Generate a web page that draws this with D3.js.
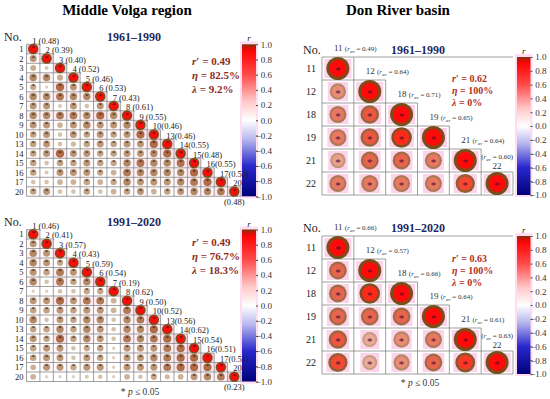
<!DOCTYPE html>
<html>
<head>
<meta charset="utf-8">
<script src="https://cdn.jsdelivr.net/npm/d3@7"></script>
<style>
  body { margin: 0; background: #fff; }
  svg { display: block; }
  text { font-family: "Liberation Serif", "DejaVu Serif", serif; }
</style>
</head>
<body>
<svg id="chart" width="550" height="399"></svg>
<script>
// station numbers
volgaIds = [1, 2, 3, 4, 5, 6, 7, 8, 9, 10, 13, 14, 15, 16, 17, 20];
donIds = [11, 12, 18, 19, 21, 22];

// mean r of each station (the labels along the diagonal)
volgaAv1961 = [0.48, 0.39, 0.40, 0.52, 0.46, 0.53, 0.43, 0.61, 0.55, 0.46, 0.46, 0.55, 0.48, 0.55, 0.53, 0.48];
volgaAv1991 = [0.46, 0.41, 0.57, 0.43, 0.59, 0.54, 0.19, 0.62, 0.50, 0.52, 0.56, 0.62, 0.54, 0.51, 0.51, 0.23];
donAv1961 = [0.49, 0.64, 0.71, 0.65, 0.64, 0.60];
donAv1991 = [0.66, 0.57, 0.66, 0.64, 0.61, 0.63];

// lower triangle: row i holds r with the stations before it
volgaR1961 = [
  [],
  [0.45],
  [0.32, 0.15],
  [0.5, 0.5, 0.35],
  [0.37, 0.1, 0.62, 0.45],
  [0.5, 0.5, 0.56, 0.5, 0.5],
  [0.45, 0.45, 0.15, 0.45, 0.2, 0.45],
  [0.5, 0.5, 0.55, 0.55, 0.5, 0.6, 0.5],
  [0.45, 0.45, 0.3, 0.45, 0.5, 0.45, 0.45, 0.5],
  [0.4, 0.45, 0.2, 0.45, 0.4, 0.45, 0.4, 0.45, 0.6],
  [0.4, 0.45, 0.2, 0.25, 0.4, 0.45, 0.4, 0.45, 0.45, 0.6],
  [0.4, 0.45, 0.62, 0.45, 0.45, 0.4, 0.4, 0.45, 0.45, 0.5, 0.6],
  [0.4, 0.2, 0.4, 0.4, 0.45, 0.4, 0.37, 0.5, 0.57, 0.5, 0.5, 0.58],
  [0.4, 0.15, 0.45, 0.45, 0.45, 0.37, 0.3, 0.55, 0.5, 0.5, 0.5, 0.5, 0.6],
  [0.2, 0.2, 0.3, 0.3, 0.4, 0.3, 0.37, 0.5, 0.45, 0.45, 0.45, 0.5, 0.55, 0.6],
  [0.4, 0.45, 0.2, 0.2, 0.4, 0.2, 0.3, 0.4, 0.45, 0.3, 0.4, 0.45, 0.5, 0.5, 0.55]
];
volgaR1991 = [
  [],
  [0.45],
  [0.5, 0.45],
  [0.5, 0.45, 0.37],
  [0.45, 0.4, 0.55, 0.45],
  [0.5, 0.2, 0.56, 0.4, 0.5],
  [0.1, 0.1, 0.2, 0.2, 0.37, 0.37],
  [0.45, 0.45, 0.6, 0.45, 0.55, 0.55, 0.3],
  [0.4, 0.4, 0.45, 0.4, 0.45, 0.45, 0.3, 0.55],
  [0.5, 0.2, 0.45, 0.4, 0.5, 0.5, 0.2, 0.5, 0.55],
  [0.4, 0.4, 0.5, 0.4, 0.5, 0.45, 0.2, 0.5, 0.5, 0.6],
  [0.45, 0.4, 0.6, 0.4, 0.5, 0.45, 0.2, 0.55, 0.5, 0.55, 0.6],
  [0.4, 0.45, 0.45, 0.2, 0.37, 0.4, 0.1, 0.45, 0.45, 0.45, 0.55, 0.6],
  [0.4, 0.45, 0.45, 0.2, 0.45, 0.4, 0.1, 0.45, 0.45, 0.5, 0.55, 0.6, 0.6],
  [0.3, 0.45, 0.45, 0.37, 0.45, 0.45, 0.1, 0.45, 0.45, 0.45, 0.55, 0.6, 0.6, 0.6],
  [0.3, 0.1, 0.1, 0.1, 0.15, 0.2, 0.1, 0.3, 0.2, 0.37, 0.25, 0.3, 0.45, 0.5, 0.55]
];
donR1961 = [
  [],
  [0.5],
  [0.55, 0.65],
  [0.55, 0.65, 0.8],
  [0.45, 0.6, 0.6, 0.55],
  [0.55, 0.55, 0.55, 0.55, 0.7]
];
donR1991 = [
  [],
  [0.6],
  [0.6, 0.8],
  [0.6, 0.6, 0.6],
  [0.65, 0.42, 0.5, 0.55],
  [0.7, 0.42, 0.5, 0.6, 0.75]
];

// r', eta (%), lambda (%)
volgaStats1961 = [0.49, 82.5, 9.2];
volgaStats1991 = [0.49, 76.7, 18.3];
donStats1961 = [0.62, 100, 0];
donStats1991 = [0.63, 100, 0];

cbTicks = [1.0, 0.8, 0.6, 0.4, 0.2, 0.0, -0.2, -0.4, -0.6, -0.8, -1.0];

const svg = d3.select('#chart');
const rCrit = 0.361; // p <= 0.05 for n = 30

// colour bar scale
const color = d3.scaleLinear()
  .domain([-1, -0.6, -0.25, 0, 0.25, 0.6, 0.93, 1])
  .range(['#00007a', '#2828cc', '#b8b8ee', '#ffffff', '#ffc8c8', '#ff4a4a', '#ff0000', '#7a3510'])
  .clamp(true);
// circle colours: ring and core
const ring = d3.scaleLinear().domain([0, 0.4, 0.6, 0.8, 1]).range(['#e8ddd0', '#c4a486', '#a06e44', '#805222', '#7a4e1a']).clamp(true);
const core = d3.scaleLinear().domain([0, 0.4, 0.6, 0.8, 1]).range(['#f5e6e0', '#eeb2a2', '#e8644e', '#ff2a1a', '#ff0a0a']).clamp(true);

// titles
svg.append('text').attr('x', 127).attr('y', 15).attr('text-anchor', 'middle')
  .style('font-size', '15px').style('font-weight', 'bold').text('Middle Volga region');
svg.append('text').attr('x', 398).attr('y', 15).attr('text-anchor', 'middle')
  .style('font-size', '15px').style('font-weight', 'bold').text('Don River basin');

function drawPanel(opt) {
  const g = svg.append('g');
  const n = opt.ids.length;
  const x = d3.scaleBand().domain(opt.ids).range([opt.x0, opt.x1]);
  const y = d3.scaleBand().domain(opt.ids).range([opt.y0, opt.y1]);
  const bw = x.bandwidth(), bh = y.bandwidth();
  const rad = d3.scaleSqrt().domain([0, 1]).range([0, opt.maxR]);

  const cells = [];
  opt.ids.forEach((row, i) => {
    opt.r[i].forEach((v, j) => cells.push({ row: row, col: opt.ids[j], v: v }));
    cells.push({ row: row, col: row, v: 1, diag: true });
  });

  // colour bar (drawn first so the labels can run over it)
  const gid = 'grad' + opt.key;
  const grad = svg.append('defs').append('linearGradient').attr('id', gid)
    .attr('x1', 0).attr('y1', 1).attr('x2', 0).attr('y2', 0);
  d3.range(-1, 1.0001, 0.05).forEach(v => {
    grad.append('stop').attr('offset', `${(v + 1) / 2 * 100}%`).attr('stop-color', color(v));
  });
  const cy = d3.scaleLinear().domain([-1, 1]).range([opt.y1, opt.y0]);
  g.append('rect').attr('x', opt.cbX - 2).attr('y', opt.y0 - 3)
    .attr('width', opt.cbW + 4).attr('height', opt.y1 - opt.y0 + 5).attr('fill', '#ffdcef');
  g.append('rect').attr('x', opt.cbX).attr('y', opt.y0)
    .attr('width', opt.cbW).attr('height', opt.y1 - opt.y0).attr('fill', `url(#${gid})`);
  g.append('text').attr('x', opt.cbX + opt.cbW / 2).attr('y', opt.y0 - 3)
    .attr('text-anchor', 'middle').style('font-size', '9px').style('font-style', 'italic')
    .attr('fill', '#222').text('r');
  const axis = d3.axisRight(cy).tickValues(cbTicks).tickSize(2).tickFormat(d3.format('.1f'));
  const ag = g.append('g').attr('transform', `translate(${opt.cbX + opt.cbW},0)`).call(axis);
  ag.select('.domain').remove();
  ag.selectAll('line').attr('stroke', '#444');
  ag.selectAll('text').attr('x', 16).attr('text-anchor', 'end')
    .style('font-family', '"Liberation Serif", serif').style('font-size', '9px').attr('fill', '#333');

  // pink backgrounds
  if (opt.don) {
    g.selectAll('rect.bg').data(cells).enter().append('rect')
      .attr('x', d => x(d.col) + bw / 2 - rad(d.v) - 2)
      .attr('y', d => y(d.row) + 2)
      .attr('width', d => 2 * rad(d.v) + 4)
      .attr('height', bh - 4)
      .attr('fill', '#ffd2ec');
  } else {
    g.selectAll('rect.bg').data(cells).enter().append('rect')
      .attr('x', d => x(d.col) + 0.5)
      .attr('y', d => y(d.row) + 0.5)
      .attr('width', bw - 1)
      .attr('height', bh - 1)
      .attr('fill', '#ffc6dc')
      .attr('opacity', d => d.diag ? 0.9 : Math.max(0, Math.min(1, (d.v - 0.4) / 0.3)) * 0.7);
  }

  // grid (lower triangle staircase)
  const lines = [];
  opt.ids.forEach((id, i) => {
    const right = x(id) + bw;
    lines.push([opt.x0, y(id), (i === 0 && opt.don) ? opt.x1 : right, y(id)]);
    lines.push([right, y(id), right, opt.y1]);
  });
  lines.push([opt.x0, opt.y0, opt.x0, opt.y1]);
  lines.push([opt.x0, opt.y1, opt.x1, opt.y1]);
  g.selectAll('line.grid').data(lines).enter().append('line')
    .attr('x1', d => d[0]).attr('y1', d => d[1])
    .attr('x2', d => d[2]).attr('y2', d => d[3])
    .attr('stroke', '#777').attr('stroke-width', 0.7);

  // circles: brownish ring with a red core
  g.selectAll('circle.outer').data(cells).enter().append('circle')
    .attr('cx', d => x(d.col) + bw / 2)
    .attr('cy', d => y(d.row) + bh / 2)
    .attr('r', d => rad(d.v))
    .attr('fill', d => ring(d.v));
  g.selectAll('circle.inner').data(cells).enter().append('circle')
    .attr('cx', d => x(d.col) + bw / 2)
    .attr('cy', d => y(d.row) + bh / 2)
    .attr('r', d => rad(d.v) * (opt.don ? 0.74 : 0.7))
    .attr('fill', d => core(d.v))
    .attr('opacity', d => opt.don ? 1 : Math.max(0, Math.min(1, (d.v - 0.5) / 0.3)));

  // significance marks
  g.selectAll('text.sig').data(cells.filter(d => d.v >= rCrit)).enter().append('text')
    .attr('x', d => x(d.col) + bw / 2)
    .attr('y', d => y(d.row) + bh / 2 + (opt.don ? 5.3 : 1.2))
    .attr('text-anchor', 'middle')
    .style('font-size', opt.don ? '11px' : '7px')
    .attr('fill', opt.don ? '#5a1030' : '#111')
    .text('*');

  // row labels
  g.selectAll('text.row').data(opt.ids).enter().append('text')
    .attr('x', opt.x0 - (opt.don ? 6 : 3))
    .attr('y', d => y(d) + bh / 2 + (opt.don ? 3.5 : 3))
    .attr('text-anchor', 'end')
    .style('font-size', opt.don ? '10px' : '8.5px')
    .attr('fill', '#222')
    .text(d => d);

  g.append('text').attr('x', opt.noX).attr('y', opt.titleY)
    .style('font-size', '12px').attr('fill', '#222').text('No.');
  g.append('text').attr('x', opt.titleX).attr('y', opt.titleY)
    .attr('text-anchor', 'middle')
    .style('font-size', '12px').style('font-weight', 'bold')
    .attr('fill', '#1b2a66').text(opt.period);

  // diagonal labels
  opt.ids.forEach((id, i) => {
    const cx = x(id) + bw / 2;
    const top = y(id);
    const av = opt.av[i].toFixed(2);
    if (!opt.don) {
      g.append('text').attr('x', cx - 1).attr('y', top - 0.6)
        .style('font-size', '8.5px').attr('fill', '#222')
        .text(i < n - 1 ? `${id}${id < 10 ? ' ' : ''}(${av})` : `${id}`);
      if (i === n - 1) {
        g.append('text').attr('x', cx).attr('y', opt.y1 + 8.5)
          .attr('text-anchor', 'middle')
          .style('font-size', '8.5px').attr('fill', '#222').text(`(${av})`);
      }
    } else {
      const addAv = (t) => {
        t.append('tspan').text('(');
        t.append('tspan').style('font-style', 'italic').text('r');
        t.append('tspan').attr('dy', 1.5).style('font-size', '5px').style('font-style', 'italic').text('av');
        t.append('tspan').attr('dy', -1.5).text(` = ${av})`);
      };
      if (i < n - 1) {
        const t = g.append('text').attr('x', cx - 4).attr('y', top - 6)
          .style('font-size', '7px').attr('fill', '#333');
        t.append('tspan').style('font-size', '9px').text(`${id} `);
        addAv(t);
      } else {
        const t = g.append('text').attr('x', cx).attr('y', top - 13)
          .attr('text-anchor', 'middle').style('font-size', '7px').attr('fill', '#333');
        addAv(t);
        g.append('text').attr('x', cx).attr('y', top - 3)
          .attr('text-anchor', 'middle').style('font-size', '9px').attr('fill', '#333').text(id);
      }
    }
  });

  // summary stats
  const st = [
    ['r', `′ = ${opt.stats[0].toFixed(2)}`],
    ['η', ` = ${opt.stats[1]}%`],
    ['λ', ` = ${opt.stats[2]}%`]
  ];
  st.forEach((s, k) => {
    const t = g.append('text').attr('x', opt.statsX).attr('y', opt.statsY + k * opt.statsStep)
      .style('font-size', opt.don ? '10px' : '11px').style('font-weight', 'bold')
      .attr('fill', opt.don ? '#b0301e' : '#8e2a1c');
    t.append('tspan').style('font-style', 'italic').text(s[0]);
    t.append('tspan').text(s[1]);
  });

  if (opt.foot) {
    const t = g.append('text').attr('x', opt.foot[0]).attr('y', opt.foot[1])
      .attr('text-anchor', 'middle').style('font-size', '9.5px').attr('fill', '#333');
    t.append('tspan').text('* ');
    t.append('tspan').style('font-style', 'italic').text('p');
    t.append('tspan').text(' ≤ 0.05');
  }
}

drawPanel({
  key: 'v1', ids: volgaIds, av: volgaAv1961, r: volgaR1961, stats: volgaStats1961, period: '1961–1990',
  x0: 26.5, x1: 241, y0: 44.3, y1: 196.3, maxR: 5.2, cbX: 242, cbW: 14,
  titleX: 134, titleY: 41, noX: 4, statsX: 192, statsY: 65, statsStep: 14
});
drawPanel({
  key: 'v2', ids: volgaIds, av: volgaAv1991, r: volgaR1991, stats: volgaStats1991, period: '1991–2020',
  x0: 26.5, x1: 241, y0: 229.5, y1: 381.5, maxR: 5.2, cbX: 242, cbW: 14,
  titleX: 134, titleY: 226, noX: 4, statsX: 192, statsY: 246, statsStep: 14, foot: [140, 395]
});
drawPanel({
  key: 'd1', don: true, ids: donIds, av: donAv1961, r: donR1961, stats: donStats1961, period: '1961–1990',
  x0: 322, x1: 513, y0: 57, y1: 195, maxR: 11.5, cbX: 517, cbW: 13.5,
  titleX: 418, titleY: 53.5, noX: 303, statsX: 452, statsY: 82, statsStep: 12
});
drawPanel({
  key: 'd2', don: true, ids: donIds, av: donAv1991, r: donR1991, stats: donStats1991, period: '1991–2020',
  x0: 322, x1: 513, y0: 236, y1: 374, maxR: 11.5, cbX: 517, cbW: 13.5,
  titleX: 418, titleY: 232, noX: 303, statsX: 452, statsY: 262, statsStep: 12, foot: [420, 386]
});
</script>
</body>
</html>
